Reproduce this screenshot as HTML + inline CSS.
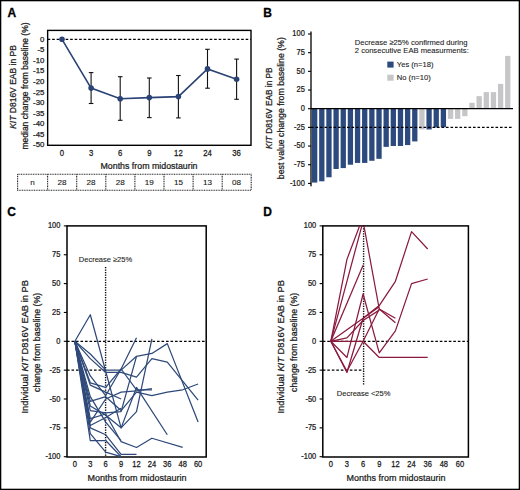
<!DOCTYPE html>
<html><head><meta charset="utf-8"><style>
html,body{margin:0;padding:0;background:#fff;}
body{width:520px;height:490px;overflow:hidden;}
svg{display:block;font-family:"Liberation Sans", sans-serif;}
text{fill:#1a1a1a;stroke:#1a1a1a;stroke-width:0.25px;}
text.ann{stroke-width:0.1px;fill:#222;stroke:#222;}
text.tbl{stroke-width:0.12px;}
text.lbl{stroke-width:0.3px;fill:#000;stroke:#000;}
</style></head><body>
<svg width="520" height="490" viewBox="0 0 520 490">
<rect x="0" y="0" width="520" height="490" fill="#fff"/>
<text x="7.4" y="17.2" font-size="12" font-weight="bold" class="lbl">A</text>
<rect x="47.65" y="30.4" width="203.35" height="114.90" fill="none" stroke="#000" stroke-width="1.4"/>
<text x="44.40" y="41.70" font-size="7.8" text-anchor="end">0</text>
<text x="44.40" y="52.27" font-size="7.8" text-anchor="end">-5</text>
<text x="44.40" y="62.84" font-size="7.8" text-anchor="end">-10</text>
<text x="44.40" y="73.41" font-size="7.8" text-anchor="end">-15</text>
<text x="44.40" y="83.98" font-size="7.8" text-anchor="end">-20</text>
<text x="44.40" y="94.55" font-size="7.8" text-anchor="end">-25</text>
<text x="44.40" y="105.12" font-size="7.8" text-anchor="end">-30</text>
<text x="44.40" y="115.69" font-size="7.8" text-anchor="end">-35</text>
<text x="44.40" y="126.26" font-size="7.8" text-anchor="end">-40</text>
<text x="44.40" y="136.83" font-size="7.8" text-anchor="end">-45</text>
<text x="44.40" y="147.40" font-size="7.8" text-anchor="end">-50</text>
<line x1="47.65" y1="39.30" x2="251.00" y2="39.30" stroke="#000" stroke-width="1.2" stroke-dasharray="2.6 1.9"/>
<line x1="91.10" y1="72.60" x2="91.10" y2="103.50" stroke="#111" stroke-width="1.1"/>
<line x1="88.80" y1="72.60" x2="93.40" y2="72.60" stroke="#111" stroke-width="1.1"/>
<line x1="88.80" y1="103.50" x2="93.40" y2="103.50" stroke="#111" stroke-width="1.1"/>
<line x1="120.20" y1="76.70" x2="120.20" y2="120.30" stroke="#111" stroke-width="1.1"/>
<line x1="117.90" y1="76.70" x2="122.50" y2="76.70" stroke="#111" stroke-width="1.1"/>
<line x1="117.90" y1="120.30" x2="122.50" y2="120.30" stroke="#111" stroke-width="1.1"/>
<line x1="149.30" y1="78.00" x2="149.30" y2="117.60" stroke="#111" stroke-width="1.1"/>
<line x1="147.00" y1="78.00" x2="151.60" y2="78.00" stroke="#111" stroke-width="1.1"/>
<line x1="147.00" y1="117.60" x2="151.60" y2="117.60" stroke="#111" stroke-width="1.1"/>
<line x1="178.40" y1="75.50" x2="178.40" y2="117.90" stroke="#111" stroke-width="1.1"/>
<line x1="176.10" y1="75.50" x2="180.70" y2="75.50" stroke="#111" stroke-width="1.1"/>
<line x1="176.10" y1="117.90" x2="180.70" y2="117.90" stroke="#111" stroke-width="1.1"/>
<line x1="207.50" y1="49.30" x2="207.50" y2="88.20" stroke="#111" stroke-width="1.1"/>
<line x1="205.20" y1="49.30" x2="209.80" y2="49.30" stroke="#111" stroke-width="1.1"/>
<line x1="205.20" y1="88.20" x2="209.80" y2="88.20" stroke="#111" stroke-width="1.1"/>
<line x1="236.60" y1="59.10" x2="236.60" y2="99.30" stroke="#111" stroke-width="1.1"/>
<line x1="234.30" y1="59.10" x2="238.90" y2="59.10" stroke="#111" stroke-width="1.1"/>
<line x1="234.30" y1="99.30" x2="238.90" y2="99.30" stroke="#111" stroke-width="1.1"/>
<polyline points="62.00,39.3 91.10,88.1 120.20,98.8 149.30,97.6 178.40,96.6 207.50,68.9 236.60,79.2" fill="none" stroke="#2a4274" stroke-width="1.6"/>
<circle cx="62.00" cy="39.3" r="2.8" fill="#2a4274"/>
<circle cx="91.10" cy="88.1" r="2.8" fill="#2a4274"/>
<circle cx="120.20" cy="98.8" r="2.8" fill="#2a4274"/>
<circle cx="149.30" cy="97.6" r="2.8" fill="#2a4274"/>
<circle cx="178.40" cy="96.6" r="2.8" fill="#2a4274"/>
<circle cx="207.50" cy="68.9" r="2.8" fill="#2a4274"/>
<circle cx="236.60" cy="79.2" r="2.8" fill="#2a4274"/>
<text transform="translate(62.00,155.50) scale(0.92,1)" font-size="8.4" text-anchor="middle">0</text>
<text transform="translate(91.10,155.50) scale(0.92,1)" font-size="8.4" text-anchor="middle">3</text>
<text transform="translate(120.20,155.50) scale(0.92,1)" font-size="8.4" text-anchor="middle">6</text>
<text transform="translate(149.30,155.50) scale(0.92,1)" font-size="8.4" text-anchor="middle">9</text>
<text transform="translate(178.40,155.50) scale(0.92,1)" font-size="8.4" text-anchor="middle">12</text>
<text transform="translate(207.50,155.50) scale(0.92,1)" font-size="8.4" text-anchor="middle">24</text>
<text transform="translate(236.60,155.50) scale(0.92,1)" font-size="8.4" text-anchor="middle">36</text>
<text transform="translate(149.00,168.80) scale(0.91,1)" font-size="9.7" text-anchor="middle">Months from midostaurin</text>
<text transform="translate(15.9,87) rotate(-90)" font-size="8.5" text-anchor="middle"><tspan font-style="italic">KIT</tspan> D816V EAB in PB</text>
<text transform="translate(27.9,86) rotate(-90)" font-size="8.5" text-anchor="middle">median change from baseline (%)</text>
<rect x="17.6" y="174.2" width="233.60" height="16.00" fill="none" stroke="#222" stroke-width="1.1" stroke-dasharray="1 0.7"/>
<line x1="47.60" y1="174.2" x2="47.60" y2="190.2" stroke="#222" stroke-width="1.1" stroke-dasharray="1 0.7"/>
<line x1="76.70" y1="174.2" x2="76.70" y2="190.2" stroke="#222" stroke-width="1.1" stroke-dasharray="1 0.7"/>
<line x1="105.80" y1="174.2" x2="105.80" y2="190.2" stroke="#222" stroke-width="1.1" stroke-dasharray="1 0.7"/>
<line x1="134.90" y1="174.2" x2="134.90" y2="190.2" stroke="#222" stroke-width="1.1" stroke-dasharray="1 0.7"/>
<line x1="164.00" y1="174.2" x2="164.00" y2="190.2" stroke="#222" stroke-width="1.1" stroke-dasharray="1 0.7"/>
<line x1="193.10" y1="174.2" x2="193.10" y2="190.2" stroke="#222" stroke-width="1.1" stroke-dasharray="1 0.7"/>
<line x1="222.20" y1="174.2" x2="222.20" y2="190.2" stroke="#222" stroke-width="1.1" stroke-dasharray="1 0.7"/>
<text x="32.60" y="185.10" font-size="8.1" text-anchor="middle" class="tbl">n</text>
<text x="62.00" y="185.10" font-size="8.1" text-anchor="middle" class="tbl">28</text>
<text x="91.10" y="185.10" font-size="8.1" text-anchor="middle" class="tbl">28</text>
<text x="120.20" y="185.10" font-size="8.1" text-anchor="middle" class="tbl">28</text>
<text x="149.30" y="185.10" font-size="8.1" text-anchor="middle" class="tbl">19</text>
<text x="178.40" y="185.10" font-size="8.1" text-anchor="middle" class="tbl">15</text>
<text x="207.50" y="185.10" font-size="8.1" text-anchor="middle" class="tbl">13</text>
<text x="236.60" y="185.10" font-size="8.1" text-anchor="middle" class="tbl">08</text>
<text x="263.3" y="17.2" font-size="12" font-weight="bold" class="lbl">B</text>
<line x1="311.00" y1="31.50" x2="311.00" y2="186.30" stroke="#000" stroke-width="1.3"/>
<line x1="308.00" y1="34.00" x2="311.00" y2="34.00" stroke="#000" stroke-width="1.1"/>
<text transform="translate(304.80,36.40) scale(0.9,1)" font-size="8.3" text-anchor="end">100</text>
<line x1="308.00" y1="52.68" x2="311.00" y2="52.68" stroke="#000" stroke-width="1.1"/>
<text transform="translate(304.80,55.08) scale(0.9,1)" font-size="8.3" text-anchor="end">75</text>
<line x1="308.00" y1="71.35" x2="311.00" y2="71.35" stroke="#000" stroke-width="1.1"/>
<text transform="translate(304.80,73.75) scale(0.9,1)" font-size="8.3" text-anchor="end">50</text>
<line x1="308.00" y1="90.03" x2="311.00" y2="90.03" stroke="#000" stroke-width="1.1"/>
<text transform="translate(304.80,92.43) scale(0.9,1)" font-size="8.3" text-anchor="end">25</text>
<line x1="308.00" y1="108.70" x2="311.00" y2="108.70" stroke="#000" stroke-width="1.1"/>
<text transform="translate(304.80,111.10) scale(0.9,1)" font-size="8.3" text-anchor="end">0</text>
<line x1="308.00" y1="127.38" x2="311.00" y2="127.38" stroke="#000" stroke-width="1.1"/>
<text transform="translate(304.80,129.78) scale(0.9,1)" font-size="8.3" text-anchor="end">-25</text>
<line x1="308.00" y1="146.05" x2="311.00" y2="146.05" stroke="#000" stroke-width="1.1"/>
<text transform="translate(304.80,148.45) scale(0.9,1)" font-size="8.3" text-anchor="end">-50</text>
<line x1="308.00" y1="164.72" x2="311.00" y2="164.72" stroke="#000" stroke-width="1.1"/>
<text transform="translate(304.80,167.12) scale(0.9,1)" font-size="8.3" text-anchor="end">-75</text>
<line x1="308.00" y1="183.40" x2="311.00" y2="183.40" stroke="#000" stroke-width="1.1"/>
<text transform="translate(304.80,185.80) scale(0.9,1)" font-size="8.3" text-anchor="end">-100</text>
<rect x="312.00" y="108.70" width="5.3" height="73.88" fill="#2d4a7e"/>
<rect x="319.15" y="108.70" width="5.3" height="72.61" fill="#2d4a7e"/>
<rect x="326.30" y="108.70" width="5.3" height="68.57" fill="#2d4a7e"/>
<rect x="333.46" y="108.70" width="5.3" height="60.28" fill="#2d4a7e"/>
<rect x="340.61" y="108.70" width="5.3" height="59.39" fill="#2d4a7e"/>
<rect x="347.76" y="108.70" width="5.3" height="56.02" fill="#2d4a7e"/>
<rect x="354.91" y="108.70" width="5.3" height="54.23" fill="#2d4a7e"/>
<rect x="362.06" y="108.70" width="5.3" height="54.23" fill="#2d4a7e"/>
<rect x="369.22" y="108.70" width="5.3" height="52.07" fill="#2d4a7e"/>
<rect x="376.37" y="108.70" width="5.3" height="50.12" fill="#2d4a7e"/>
<rect x="383.52" y="108.70" width="5.3" height="38.17" fill="#2d4a7e"/>
<rect x="390.67" y="108.70" width="5.3" height="37.28" fill="#2d4a7e"/>
<rect x="397.82" y="108.70" width="5.3" height="37.28" fill="#2d4a7e"/>
<rect x="404.98" y="108.70" width="5.3" height="36.38" fill="#2d4a7e"/>
<rect x="412.13" y="108.70" width="5.3" height="32.72" fill="#2d4a7e"/>
<rect x="419.28" y="108.70" width="5.3" height="20.77" fill="#c6c6c8"/>
<rect x="426.43" y="108.70" width="5.3" height="20.77" fill="#2d4a7e"/>
<rect x="433.58" y="108.70" width="5.3" height="18.82" fill="#2d4a7e"/>
<rect x="440.74" y="108.70" width="5.3" height="18.53" fill="#2d4a7e"/>
<rect x="447.89" y="108.70" width="5.3" height="10.16" fill="#c6c6c8"/>
<rect x="455.04" y="108.70" width="5.3" height="10.16" fill="#c6c6c8"/>
<rect x="462.19" y="108.70" width="5.3" height="7.47" fill="#c6c6c8"/>
<rect x="469.34" y="102.80" width="5.3" height="5.90" fill="#c6c6c8"/>
<rect x="476.50" y="96.15" width="5.3" height="12.55" fill="#c6c6c8"/>
<rect x="483.65" y="92.12" width="5.3" height="16.58" fill="#c6c6c8"/>
<rect x="490.80" y="92.12" width="5.3" height="16.58" fill="#c6c6c8"/>
<rect x="497.95" y="83.90" width="5.3" height="24.80" fill="#c6c6c8"/>
<rect x="505.10" y="55.89" width="5.3" height="52.81" fill="#c6c6c8"/>
<line x1="311.00" y1="108.70" x2="513.00" y2="108.70" stroke="#000" stroke-width="1.3"/>
<line x1="311.00" y1="127.38" x2="513.00" y2="127.38" stroke="#000" stroke-width="1.2" stroke-dasharray="2.6 1.9"/>
<text transform="translate(271.8,108.2) rotate(-90)" font-size="8.3" text-anchor="middle"><tspan font-style="italic">KIT</tspan> D816V EAB in PB</text>
<text transform="translate(283.5,108.2) rotate(-90)" font-size="8.75" text-anchor="middle">best value change from baseline (%)</text>
<text x="354.80" y="44.60" font-size="7.6" class="ann">Decrease ≥25% confirmed during</text>
<text x="354.80" y="53.10" font-size="7.6" class="ann">2 consecutive EAB measurments:</text>
<rect x="387.3" y="61.6" width="6.3" height="6" fill="#2d4a7e"/>
<text x="396.80" y="67.20" font-size="7.6" class="ann">Yes (n=18)</text>
<rect x="387.3" y="74.7" width="6.3" height="6" fill="#c6c6c8"/>
<text x="396.80" y="80.20" font-size="7.6" class="ann">No (n=10)</text>
<text x="7.3" y="215.8" font-size="12" font-weight="bold" class="lbl">C</text>
<rect x="67.0" y="225.9" width="139.20" height="231.10" fill="none" stroke="#000" stroke-width="1.5"/>
<line x1="63.80" y1="225.90" x2="67.00" y2="225.90" stroke="#000" stroke-width="1.1"/>
<text transform="translate(60.40,228.40) scale(0.9,1)" font-size="8.3" text-anchor="end">100</text>
<line x1="63.80" y1="254.75" x2="67.00" y2="254.75" stroke="#000" stroke-width="1.1"/>
<text transform="translate(60.40,257.25) scale(0.9,1)" font-size="8.3" text-anchor="end">75</text>
<line x1="63.80" y1="283.60" x2="67.00" y2="283.60" stroke="#000" stroke-width="1.1"/>
<text transform="translate(60.40,286.10) scale(0.9,1)" font-size="8.3" text-anchor="end">50</text>
<line x1="63.80" y1="312.45" x2="67.00" y2="312.45" stroke="#000" stroke-width="1.1"/>
<text transform="translate(60.40,314.95) scale(0.9,1)" font-size="8.3" text-anchor="end">25</text>
<line x1="63.80" y1="341.30" x2="67.00" y2="341.30" stroke="#000" stroke-width="1.1"/>
<text transform="translate(60.40,343.80) scale(0.9,1)" font-size="8.3" text-anchor="end">0</text>
<line x1="63.80" y1="370.15" x2="67.00" y2="370.15" stroke="#000" stroke-width="1.1"/>
<text transform="translate(60.40,372.65) scale(0.9,1)" font-size="8.3" text-anchor="end">-25</text>
<line x1="63.80" y1="399.00" x2="67.00" y2="399.00" stroke="#000" stroke-width="1.1"/>
<text transform="translate(60.40,401.50) scale(0.9,1)" font-size="8.3" text-anchor="end">-50</text>
<line x1="63.80" y1="427.85" x2="67.00" y2="427.85" stroke="#000" stroke-width="1.1"/>
<text transform="translate(60.40,430.35) scale(0.9,1)" font-size="8.3" text-anchor="end">-75</text>
<line x1="63.80" y1="456.70" x2="67.00" y2="456.70" stroke="#000" stroke-width="1.1"/>
<text transform="translate(60.40,459.20) scale(0.9,1)" font-size="8.3" text-anchor="end">-100</text>
<text transform="translate(74.90,467.20) scale(0.92,1)" font-size="8.2" text-anchor="middle">0</text>
<text transform="translate(90.30,467.20) scale(0.92,1)" font-size="8.2" text-anchor="middle">3</text>
<text transform="translate(105.70,467.20) scale(0.92,1)" font-size="8.2" text-anchor="middle">6</text>
<text transform="translate(121.10,467.20) scale(0.92,1)" font-size="8.2" text-anchor="middle">9</text>
<text transform="translate(136.50,467.20) scale(0.92,1)" font-size="8.2" text-anchor="middle">12</text>
<text transform="translate(151.90,467.20) scale(0.92,1)" font-size="8.2" text-anchor="middle">24</text>
<text transform="translate(167.30,467.20) scale(0.92,1)" font-size="8.2" text-anchor="middle">36</text>
<text transform="translate(182.70,467.20) scale(0.92,1)" font-size="8.2" text-anchor="middle">48</text>
<text transform="translate(198.10,467.20) scale(0.92,1)" font-size="8.2" text-anchor="middle">60</text>
<text transform="translate(136.90,480.50) scale(0.91,1)" font-size="9.9" text-anchor="middle">Months from midostaurin</text>
<text transform="translate(28.3,346.8) rotate(-90)" font-size="9.3" text-anchor="middle">Individual <tspan font-style="italic">KIT</tspan> D816V EAB in PB</text>
<text transform="translate(40.4,342.4) rotate(-90)" font-size="8.7" text-anchor="middle">change from baseline (%)</text>
<line x1="67.00" y1="341.30" x2="206.20" y2="341.30" stroke="#000" stroke-width="1.2" stroke-dasharray="2.6 1.9"/>
<text x="263.3" y="215.8" font-size="12" font-weight="bold" class="lbl">D</text>
<rect x="322.8" y="225.9" width="145.60" height="231.10" fill="none" stroke="#000" stroke-width="1.5"/>
<line x1="319.60" y1="225.90" x2="322.80" y2="225.90" stroke="#000" stroke-width="1.1"/>
<text transform="translate(316.20,228.40) scale(0.9,1)" font-size="8.3" text-anchor="end">100</text>
<line x1="319.60" y1="254.75" x2="322.80" y2="254.75" stroke="#000" stroke-width="1.1"/>
<text transform="translate(316.20,257.25) scale(0.9,1)" font-size="8.3" text-anchor="end">75</text>
<line x1="319.60" y1="283.60" x2="322.80" y2="283.60" stroke="#000" stroke-width="1.1"/>
<text transform="translate(316.20,286.10) scale(0.9,1)" font-size="8.3" text-anchor="end">50</text>
<line x1="319.60" y1="312.45" x2="322.80" y2="312.45" stroke="#000" stroke-width="1.1"/>
<text transform="translate(316.20,314.95) scale(0.9,1)" font-size="8.3" text-anchor="end">25</text>
<line x1="319.60" y1="341.30" x2="322.80" y2="341.30" stroke="#000" stroke-width="1.1"/>
<text transform="translate(316.20,343.80) scale(0.9,1)" font-size="8.3" text-anchor="end">0</text>
<line x1="319.60" y1="370.15" x2="322.80" y2="370.15" stroke="#000" stroke-width="1.1"/>
<text transform="translate(316.20,372.65) scale(0.9,1)" font-size="8.3" text-anchor="end">-25</text>
<line x1="319.60" y1="399.00" x2="322.80" y2="399.00" stroke="#000" stroke-width="1.1"/>
<text transform="translate(316.20,401.50) scale(0.9,1)" font-size="8.3" text-anchor="end">-50</text>
<line x1="319.60" y1="427.85" x2="322.80" y2="427.85" stroke="#000" stroke-width="1.1"/>
<text transform="translate(316.20,430.35) scale(0.9,1)" font-size="8.3" text-anchor="end">-75</text>
<line x1="319.60" y1="456.70" x2="322.80" y2="456.70" stroke="#000" stroke-width="1.1"/>
<text transform="translate(316.20,459.20) scale(0.9,1)" font-size="8.3" text-anchor="end">-100</text>
<text transform="translate(330.80,467.20) scale(0.92,1)" font-size="8.2" text-anchor="middle">0</text>
<text transform="translate(346.95,467.20) scale(0.92,1)" font-size="8.2" text-anchor="middle">3</text>
<text transform="translate(363.10,467.20) scale(0.92,1)" font-size="8.2" text-anchor="middle">6</text>
<text transform="translate(379.25,467.20) scale(0.92,1)" font-size="8.2" text-anchor="middle">9</text>
<text transform="translate(395.40,467.20) scale(0.92,1)" font-size="8.2" text-anchor="middle">12</text>
<text transform="translate(411.55,467.20) scale(0.92,1)" font-size="8.2" text-anchor="middle">24</text>
<text transform="translate(427.70,467.20) scale(0.92,1)" font-size="8.2" text-anchor="middle">36</text>
<text transform="translate(443.85,467.20) scale(0.92,1)" font-size="8.2" text-anchor="middle">48</text>
<text transform="translate(460.00,467.20) scale(0.92,1)" font-size="8.2" text-anchor="middle">60</text>
<text transform="translate(395.90,480.50) scale(0.91,1)" font-size="9.9" text-anchor="middle">Months from midostaurin</text>
<text transform="translate(284.3,346.8) rotate(-90)" font-size="9.3" text-anchor="middle">Individual <tspan font-style="italic">KIT</tspan> D816V EAB in PB</text>
<text transform="translate(296.5,342.4) rotate(-90)" font-size="8.7" text-anchor="middle">change from baseline (%)</text>
<line x1="322.80" y1="341.30" x2="468.40" y2="341.30" stroke="#000" stroke-width="1.2" stroke-dasharray="2.6 1.9"/>
<line x1="67.00" y1="370.15" x2="105.60" y2="370.15" stroke="#000" stroke-width="1.2" stroke-dasharray="2.6 1.9"/>
<line x1="105.60" y1="267.00" x2="105.60" y2="457.00" stroke="#000" stroke-width="1.4" stroke-dasharray="1.2 1.3"/>
<text x="78.80" y="261.80" font-size="7.5" class="ann">Decrease ≥25%</text>
<line x1="322.80" y1="370.15" x2="363.70" y2="370.15" stroke="#000" stroke-width="1.2" stroke-dasharray="2.6 1.9"/>
<line x1="363.60" y1="225.80" x2="363.60" y2="385.30" stroke="#000" stroke-width="1.4" stroke-dasharray="1.2 1.3"/>
<text x="336.80" y="395.60" font-size="7.5" class="ann">Decrease &lt;25%</text>
<defs><clipPath id="cc"><rect x="67" y="225.8" width="139.2" height="231.2"/></clipPath><clipPath id="cd"><rect x="322.8" y="225.8" width="145.6" height="231.2"/></clipPath></defs>
<g clip-path="url(#cc)">
<polyline points="74.90,341.30 90.30,314.76 121.10,427.85 136.50,411.69 151.90,338.99" fill="none" stroke="#2f4a7a" stroke-width="1.25" stroke-linejoin="round"/>
<polyline points="74.90,341.30 90.30,353.99 105.70,370.15 121.10,370.15 136.50,356.30 151.90,353.42 167.30,343.61 198.10,422.08" fill="none" stroke="#2f4a7a" stroke-width="1.25" stroke-linejoin="round"/>
<polyline points="74.90,341.30 90.30,358.61 105.70,372.46 121.10,372.46 136.50,377.07 151.90,358.61 167.30,362.07 198.10,400.15" fill="none" stroke="#2f4a7a" stroke-width="1.25" stroke-linejoin="round"/>
<polyline points="74.90,341.30 90.30,375.92 105.70,395.54 121.10,369.00 136.50,337.84" fill="none" stroke="#2f4a7a" stroke-width="1.25" stroke-linejoin="round"/>
<polyline points="74.90,341.30 90.30,385.15 105.70,392.08 121.10,399.00" fill="none" stroke="#2f4a7a" stroke-width="1.25" stroke-linejoin="round"/>
<polyline points="74.90,341.30 90.30,382.84 105.70,387.46 121.10,369.00 136.50,389.77 151.90,389.77" fill="none" stroke="#2f4a7a" stroke-width="1.25" stroke-linejoin="round"/>
<polyline points="74.90,341.30 90.30,401.31 105.70,396.69 121.10,410.54 136.50,392.08 151.90,395.54 167.30,392.08 182.70,389.77 198.10,384.00" fill="none" stroke="#2f4a7a" stroke-width="1.25" stroke-linejoin="round"/>
<polyline points="74.90,341.30 90.30,405.92 105.70,415.16 121.10,427.85 136.50,387.46 167.30,434.77" fill="none" stroke="#2f4a7a" stroke-width="1.25" stroke-linejoin="round"/>
<polyline points="74.90,341.30 90.30,418.62 105.70,414.00 121.10,441.70 136.50,447.47 151.90,438.24 182.70,447.47" fill="none" stroke="#2f4a7a" stroke-width="1.25" stroke-linejoin="round"/>
<polyline points="74.90,341.30 90.30,427.85 105.70,434.77 121.10,454.39 136.50,454.39" fill="none" stroke="#2f4a7a" stroke-width="1.25" stroke-linejoin="round"/>
<polyline points="74.90,341.30 90.30,440.54 105.70,440.54 121.10,456.70" fill="none" stroke="#2f4a7a" stroke-width="1.25" stroke-linejoin="round"/>
<polyline points="74.90,341.30 90.30,410.54 105.70,412.85 121.10,411.69 136.50,356.30" fill="none" stroke="#2f4a7a" stroke-width="1.25" stroke-linejoin="round"/>
<polyline points="74.90,341.30 90.30,422.08 105.70,399.00 121.10,392.08 136.50,390.92 151.90,388.61" fill="none" stroke="#2f4a7a" stroke-width="1.25" stroke-linejoin="round"/>
<polyline points="74.90,341.30 90.30,433.62 105.70,452.08 121.10,456.70" fill="none" stroke="#2f4a7a" stroke-width="1.25" stroke-linejoin="round"/>
<polyline points="74.90,341.30 90.30,396.69 105.70,422.08 121.10,440.54" fill="none" stroke="#2f4a7a" stroke-width="1.25" stroke-linejoin="round"/>
<polyline points="74.90,341.30 90.30,425.54 105.70,417.46 121.10,408.23" fill="none" stroke="#2f4a7a" stroke-width="1.25" stroke-linejoin="round"/>
</g><g clip-path="url(#cd)">
<polyline points="330.80,341.30 346.95,259.37 363.10,216.67" fill="none" stroke="#8a1a3e" stroke-width="1.25" stroke-linejoin="round"/>
<polyline points="330.80,341.30 363.10,221.28 379.25,308.99 395.40,318.22" fill="none" stroke="#8a1a3e" stroke-width="1.25" stroke-linejoin="round"/>
<polyline points="330.80,341.30 346.95,357.46 363.10,293.99 379.25,352.84 395.40,330.91 411.55,283.60 427.70,278.98" fill="none" stroke="#8a1a3e" stroke-width="1.25" stroke-linejoin="round"/>
<polyline points="330.80,341.30 346.95,329.76 363.10,318.22 379.25,305.53 395.40,281.29 411.55,231.67 427.70,248.98" fill="none" stroke="#8a1a3e" stroke-width="1.25" stroke-linejoin="round"/>
<polyline points="330.80,341.30 363.10,341.30 379.25,357.46 395.40,357.46 411.55,357.46 427.70,357.46" fill="none" stroke="#8a1a3e" stroke-width="1.25" stroke-linejoin="round"/>
<polyline points="330.80,341.30 346.95,371.30 363.10,341.30 379.25,308.99 395.40,322.84" fill="none" stroke="#8a1a3e" stroke-width="1.25" stroke-linejoin="round"/>
<polyline points="330.80,341.30 346.95,372.46 363.10,318.22 379.25,306.68" fill="none" stroke="#8a1a3e" stroke-width="1.25" stroke-linejoin="round"/>
<polyline points="330.80,341.30 363.10,265.14" fill="none" stroke="#8a1a3e" stroke-width="1.25" stroke-linejoin="round"/>
<polyline points="330.80,341.30 346.95,337.84 363.10,320.53 379.25,310.14" fill="none" stroke="#8a1a3e" stroke-width="1.25" stroke-linejoin="round"/>
</g>
<rect x="0.6" y="0.6" width="518.8" height="488.8" fill="none" stroke="#000" stroke-width="1.4"/>
</svg>
</body></html>
